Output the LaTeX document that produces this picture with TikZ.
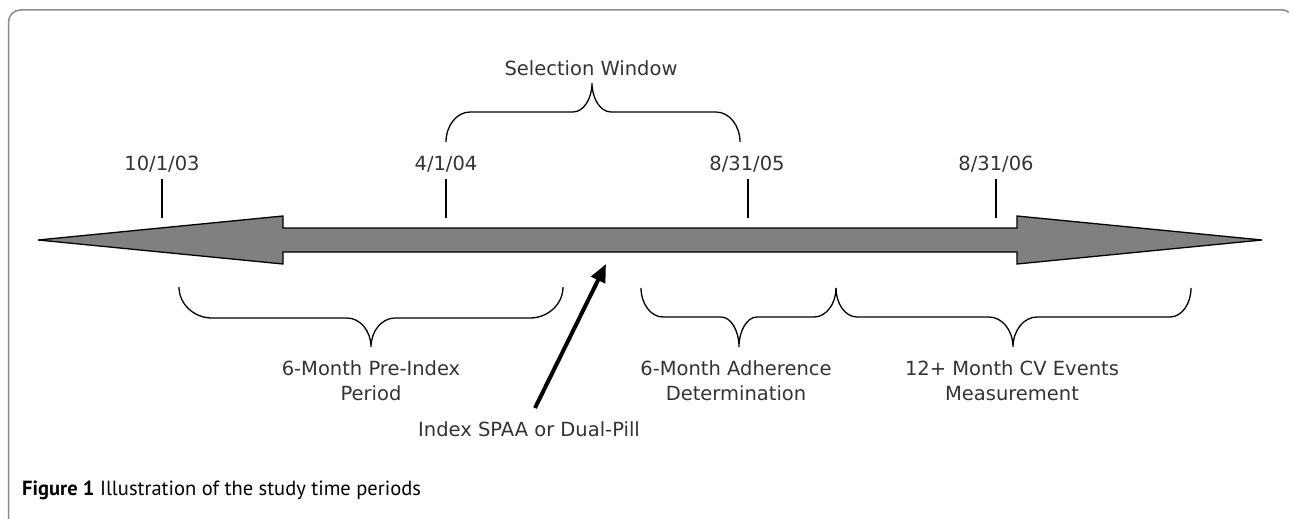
\documentclass[tikz,border=0pt]{standalone}
\usepackage{fontspec}
\setmainfont{DejaVu Sans}
\newfontfamily\capfont{PT Sans}
\usetikzlibrary{arrows.meta}
\definecolor{txt}{HTML}{333333}
\definecolor{frame}{HTML}{8C8C8C}
\definecolor{arrowfill}{HTML}{808080}
\tikzset{
  lbl/.style={text=txt, font=\fontsize{19.5}{25}\selectfont, inner sep=0pt, align=center},
  tick/.style={line width=1.3pt, black},
  bracepath/.style={line width=1.3pt, black},
}
\newcommand\mybrace[8]{% x1 x2 xm ye yl yt r r2
  \draw[bracepath] (#1,#4) .. controls (#1,{#4+0.55*(#5-#4)}) and ({#1+0.45*#7},#5) .. ({#1+#7},#5)
    -- ({#3-#8},#5) .. controls ({#3-0.45*#8},#5) and (#3,{#5+0.45*(#6-#5)}) .. (#3,#6)
    .. controls (#3,{#5+0.45*(#6-#5)}) and ({#3+0.45*#8},#5) .. ({#3+#8},#5)
    -- ({#2-#7},#5) .. controls ({#2-0.45*#7},#5) and (#2,{#4+0.55*(#5-#4)}) .. (#2,#4);
}
\begin{document}
\begin{tikzpicture}[x=1pt,y=-1pt]
\useasboundingbox (0,0) rectangle (1291,519);
% frame
\draw[frame, line width=1.5pt] (8.5,519) -- (8.5,22) arc[start angle=180, end angle=270, radius=12] -- (1283,10) arc[start angle=270, end angle=315, radius=8];
% main arrow
\draw[fill=arrowfill, line width=1.3pt, line join=miter] (38,240) -- (283,216) -- (283,228) -- (1017,228) -- (1017,216) -- (1262,240) -- (1017,264) -- (1017,252) -- (283,252) -- (283,264) -- cycle;
% date labels and ticks
\node[lbl] (d1) at (162,164) {10/1/03};
\node[lbl] (d2) at (446,164) {4/1/04};
\node[lbl] (d3) at (747,164) {8/31/05};
\node[lbl] (d4) at (996,164) {8/31/06};
\draw[tick] (162,179) -- (162,218);
\draw[tick] (446,179) -- (446,218);
\draw[tick] (748,179) -- (748,218);
\draw[tick] (996,179) -- (996,218);
% selection window
\node[lbl] (sel) at (591,68) {Selection Window};
\mybrace{446}{740}{592}{142}{112}{83}{24}{19}
% bottom braces
\mybrace{179}{563}{371}{287}{318}{347}{33}{24}
\mybrace{641}{836}{739}{288}{317}{347}{22}{18}
\mybrace{836}{1191}{1013}{288}{317}{347}{21}{24}
\node[lbl] (pre) at (371,381) {6-Month Pre-Index\\Period};
\node[lbl] (adh) at (736,381) {6-Month Adherence\\Determination};
\node[lbl] (cv) at (1012,381) {12+ Month CV Events\\Measurement};
% index pointer
\node[lbl] (idx) at (529,429) {Index SPAA or Dual-Pill};
\coordinate (ps) at (535,408);
\coordinate (pe) at (606,264);
\draw[line width=4pt, -{Triangle[length=18pt,width=15pt]}] (ps) -- (pe);
% caption
\node[anchor=base west, inner sep=0pt, font=\capfont\fontsize{20.5}{24}\selectfont] (cap) at (22,495) {\textbf{Figure 1} Illustration of the study time periods};
\end{tikzpicture}
\end{document}
